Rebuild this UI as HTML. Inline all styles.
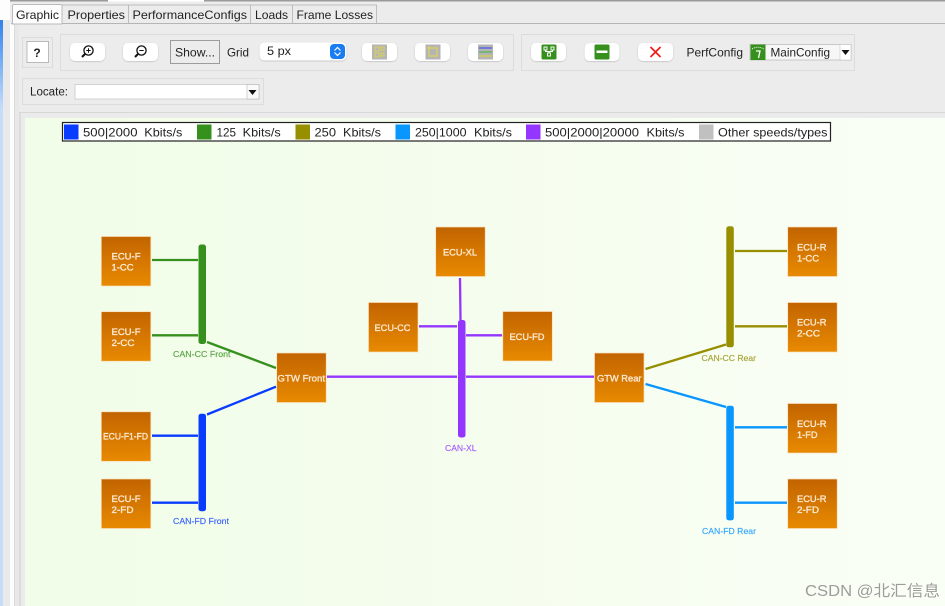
<!DOCTYPE html>
<html><head><meta charset="utf-8"><style>
html,body{margin:0;padding:0;width:945px;height:606px;overflow:hidden;background:#ececec}
svg{display:block;font-family:"Liberation Sans",sans-serif;filter:blur(0.35px)}
text{white-space:pre}
</style></head><body>
<svg width="945" height="606" viewBox="0 0 945 606" xmlns="http://www.w3.org/2000/svg">
<defs>
<linearGradient id="n" x1="0" y1="0" x2="0" y2="1"><stop offset="0" stop-color="#c26400"/><stop offset="1" stop-color="#e88a00"/></linearGradient>
<linearGradient id="bg" x1="0" y1="0" x2="1" y2="0"><stop offset="0" stop-color="#f1fde8"/><stop offset="0.5" stop-color="#f5fdee"/><stop offset="1" stop-color="#fafff6"/></linearGradient>
<linearGradient id="bl" x1="0" y1="0" x2="0" y2="1"><stop offset="0" stop-color="#2f80ee"/><stop offset="0.08" stop-color="#7fb4f5"/><stop offset="0.15" stop-color="#c4dcfa"/><stop offset="1" stop-color="#c4dcfa"/></linearGradient>
<filter id="sh" x="-20%" y="-20%" width="140%" height="150%"><feDropShadow dx="0" dy="0.6" stdDeviation="0.7" flood-color="#000" flood-opacity="0.22"/></filter>
</defs>
<rect width="945" height="606" fill="#ececec"/>
<!-- left strip and top -->
<rect x="0" y="0" width="15" height="606" fill="#fdfdfd"/>
<rect x="3" y="20" width="7" height="586" fill="#e9e9e9"/>
<rect x="0" y="20" width="3" height="586" fill="url(#bl)"/>
<rect x="10" y="0" width="98" height="1.500" fill="#9a9a9a"/>
<rect x="108" y="0" width="96" height="1.500" fill="#fff"/>
<rect x="204" y="0" width="741" height="1.500" fill="#9a9a9a"/>
<rect x="10" y="1.500" width="935" height="22" fill="#ececec"/>
<rect x="11" y="23" width="934" height="1.200" fill="#b5b5b5"/>
<!-- tabs -->
<rect x="14" y="24" width="931" height="90" fill="#ececec"/>
<rect x="14" y="24" width="5" height="582" fill="#e8e8e8"/>
<rect x="19" y="113" width="2" height="493" fill="#dcdcdc"/>
<rect x="14" y="24" width="1" height="582" fill="#dadada"/>
<path d="M12.500 24V6.500q0-2 2-2h46q1.500 0 1.500 2V24z" fill="#fdfdfd" stroke="#bbb"/>
<path d="M128.500 23V5M250.500 23V5M292.500 23V5M376.500 23V5M62 5H377" stroke="#bdbdbd" fill="none"/>
<g font-size="12" fill="#222">
<text x="16" y="19" textLength="43" lengthAdjust="spacingAndGlyphs">Graphic</text>
<text x="67.500" y="19" textLength="57.500" lengthAdjust="spacingAndGlyphs">Properties</text>
<text x="132.500" y="19" textLength="114.500" lengthAdjust="spacingAndGlyphs">PerformanceConfigs</text>
<text x="255" y="19" textLength="33" lengthAdjust="spacingAndGlyphs">Loads</text>
<text x="296.500" y="19" textLength="76.500" lengthAdjust="spacingAndGlyphs">Frame Losses</text>
</g>
<!-- toolbar groups -->
<g fill="none" stroke="#dcdcdc">
<rect x="22.500" y="37.500" width="30" height="30"/>
<rect x="60.500" y="34.500" width="453" height="36"/>
<rect x="521.500" y="34.500" width="333" height="36"/>
<rect x="22.500" y="78.500" width="241" height="26"/>
</g>
<rect x="27" y="41.500" width="21.500" height="21" fill="#fff" stroke="#aaa" stroke-width="0.800"/>
<text x="37" y="57" font-size="12" font-weight="bold" fill="#222" text-anchor="middle">?</text>
<g fill="#fff" filter="url(#sh)">
<rect x="70" y="43" width="35" height="18" rx="5"/>
<rect x="123" y="43" width="35" height="18" rx="5"/>
<rect x="259.500" y="42.500" width="87" height="18" rx="5"/>
<rect x="362" y="43" width="35" height="18" rx="5"/>
<rect x="415" y="43" width="35" height="18" rx="5"/>
<rect x="468" y="43" width="35" height="18" rx="5"/>
<rect x="531" y="43" width="35" height="18" rx="5"/>
<rect x="584.500" y="43" width="35" height="18" rx="5"/>
<rect x="638" y="43" width="35" height="18" rx="5"/>
</g>
<!-- magnifiers -->
<g fill="none" stroke="#111" stroke-width="1.300">
<circle cx="88.500" cy="50.500" r="4.600"/><path d="M85 54l-3 3" stroke-width="2"/><path d="M86.300 50.500h4.400M88.500 48.300v4.400" stroke-width="1"/>
<circle cx="141.500" cy="50.500" r="4.600"/><path d="M138 54l-3 3" stroke-width="2"/><path d="M139.300 50.500h4.400" stroke-width="1"/>
</g>
<rect x="170.500" y="40.500" width="49" height="23" fill="#ececec" stroke="#9c9c9c" stroke-width="1"/>
<text x="175" y="56.500" font-size="12" fill="#222" textLength="40" lengthAdjust="spacingAndGlyphs">Show...</text>
<text x="227" y="56.500" font-size="12" fill="#222" textLength="22" lengthAdjust="spacingAndGlyphs">Grid</text>
<text x="267" y="55" font-size="12" fill="#222" textLength="24" lengthAdjust="spacingAndGlyphs">5 px</text>
<rect x="330" y="44" width="15" height="15" rx="4" fill="#1a7cf2"/>
<path d="M334.500 50.500l3-3 3 3M334.500 52.500l3 3 3-3" fill="none" stroke="#fff" stroke-width="1.200"/>
<!-- grey icons -->
<rect x="372" y="44.500" width="15" height="15" fill="#b4b4b4"/>
<path d="M375 47h4v4h-4zM375 53h4v4h-4zM381 47h3v3h-3zM381 53h3v3h-3z" fill="none" stroke="#dcd35a"/>
<rect x="425.500" y="44.500" width="15" height="15" fill="#b4b4b4"/>
<path d="M429 48h8v8h-8zM427 48h3M429 46v3" fill="none" stroke="#dcd35a" stroke-width="1.200"/>
<rect x="478" y="44.500" width="15" height="15" fill="#b4b4b4"/>
<path d="M479 48h13" stroke="#4a5cf0" stroke-width="1.300"/><path d="M479 52h13" stroke="#58b858" stroke-width="1.300"/><path d="M479 56h13" stroke="#d8cc50" stroke-width="1.300"/>
<!-- green icons -->
<rect x="541.500" y="44.500" width="15" height="15" rx="1.500" fill="#36901e"/>
<path d="M544 47h3v3h-3zM551 47h3v3h-3zM547.500 53h3v3h-3zM545.500 50v1.500h7V50M549 51.500V53" fill="none" stroke="#fff" stroke-width="0.900"/>
<rect x="594.500" y="44.500" width="15" height="15" rx="1.500" fill="#36901e"/>
<rect x="596.500" y="50.500" width="11" height="2.500" fill="#fff"/>
<path d="M650.500 47l10 10M660.500 47l-10 10" stroke="#f0201a" stroke-width="1.800"/>
<text x="686.500" y="56.500" font-size="12" fill="#222" textLength="56.500" lengthAdjust="spacingAndGlyphs">PerfConfig</text>
<rect x="750" y="44.500" width="101" height="15.500" fill="#f7f7f7" stroke="#bdbdbd" stroke-width="0.800"/>
<rect x="750.500" y="44.500" width="15" height="15.500" fill="#36901e"/>
<path d="M752 49q5.500-3.500 12 0" fill="none" stroke="#fff" stroke-dasharray="1 1"/><path d="M756 51h4l-1.500 7" fill="none" stroke="#fff" stroke-width="1.300"/>
<text x="770.500" y="56.500" font-size="12" fill="#222" textLength="59.500" lengthAdjust="spacingAndGlyphs">MainConfig</text>
<rect x="840" y="44.500" width="11" height="15.500" fill="#fff" stroke="#bbb" stroke-width="0.500"/>
<path d="M841.500 50h8l-4 5z" fill="#111"/>
<!-- locate -->
<text x="30" y="95.500" font-size="11.500" fill="#222" textLength="38" lengthAdjust="spacingAndGlyphs">Locate:</text>
<rect x="75" y="84.500" width="184" height="14.500" fill="#fff" stroke="#c4c4c4" stroke-width="0.700"/>
<rect x="247" y="84.500" width="12" height="14.500" fill="#fafafa" stroke="#aaa" stroke-width="0.500"/>
<path d="M248.500 90h8l-4 5z" fill="#111"/>
<!-- canvas -->
<rect x="19" y="112" width="926" height="1.200" fill="#d8d8d8"/>
<rect x="21" y="113.200" width="924" height="492.800" fill="#ebebeb"/>
<rect x="25" y="118" width="920" height="488" fill="url(#bg)"/>
<!-- legend -->
<rect x="62.500" y="122.500" width="768" height="18.500" fill="#fff" stroke="#222" stroke-width="1.200"/>
<g>
<rect x="64" y="124.500" width="14.500" height="15" fill="#0a3cff"/>
<rect x="197" y="124.500" width="14.500" height="15" fill="#36901e"/>
<rect x="295.500" y="124.500" width="14.500" height="15" fill="#978f00"/>
<rect x="395.500" y="124.500" width="14.500" height="15" fill="#0a96ff"/>
<rect x="526" y="124.500" width="14.500" height="15" fill="#9436ff"/>
<rect x="699" y="124.500" width="14.500" height="15" fill="#c0c0c0"/>
</g>
<g font-size="12" fill="#222">
<text x="83" y="136.500" textLength="54.500" lengthAdjust="spacingAndGlyphs">500|2000</text><text x="144.300" y="136.500" textLength="38" lengthAdjust="spacingAndGlyphs">Kbits/s</text>
<text x="216.500" y="136.500" textLength="19.500" lengthAdjust="spacingAndGlyphs">125</text><text x="242.700" y="136.500" textLength="38" lengthAdjust="spacingAndGlyphs">Kbits/s</text>
<text x="314.500" y="136.500" textLength="21.500" lengthAdjust="spacingAndGlyphs">250</text><text x="343" y="136.500" textLength="38" lengthAdjust="spacingAndGlyphs">Kbits/s</text>
<text x="415" y="136.500" textLength="51.500" lengthAdjust="spacingAndGlyphs">250|1000</text><text x="474" y="136.500" textLength="38" lengthAdjust="spacingAndGlyphs">Kbits/s</text>
<text x="545" y="136.500" textLength="94" lengthAdjust="spacingAndGlyphs">500|2000|20000</text><text x="646.500" y="136.500" textLength="38" lengthAdjust="spacingAndGlyphs">Kbits/s</text>
<text x="718" y="136.500" textLength="109.500" lengthAdjust="spacingAndGlyphs">Other speeds/types</text>
</g>
<!-- connectors -->
<g fill="none" stroke-width="2.300">
<g stroke="#36901e"><path d="M152 260H198M152 335.300H198"/><path d="M207 342L276 368"/></g>
<g stroke="#0a3cff"><path d="M152 435.700H198M152 502.700H198"/><path d="M207 414.500L276 386.700"/></g>
<g stroke="#9436ff"><path d="M327 376.700H457M466 376.700H594"/><path d="M460 278L460.500 320"/><path d="M419 326.300H457M466 335.300H502"/></g>
<g stroke="#978f00"><path d="M735 251H787M735 326.300H787"/><path d="M645.500 369L726 344.500"/></g>
<g stroke="#0a96ff"><path d="M735 427.300H787M735 502.700H787"/><path d="M645.500 384L726 407"/></g>
</g>
<!-- buses -->
<rect x="198.500" y="244.500" width="7.500" height="99.500" rx="2.500" fill="#36901e"/>
<rect x="198.500" y="413.700" width="7.500" height="97.500" rx="2.500" fill="#0a3cff"/>
<rect x="458" y="320" width="7.500" height="117.500" rx="2.500" fill="#9436ff"/>
<rect x="726.300" y="226.300" width="7.500" height="121" rx="2.500" fill="#978f00"/>
<rect x="726.300" y="405.700" width="7.500" height="114.700" rx="2.500" fill="#0a96ff"/>
<!-- nodes -->
<g fill="url(#n)" stroke="#fbdcb8" stroke-width="0.700">
<rect x="101.300" y="236.500" width="49.500" height="49.500"/>
<rect x="101.300" y="311.700" width="49.500" height="49.500"/>
<rect x="101.300" y="411.800" width="49.500" height="49.500"/>
<rect x="101.300" y="479" width="49.500" height="49.500"/>
<rect x="276.700" y="353" width="49.500" height="49.500"/>
<rect x="435.700" y="227" width="49.500" height="49.500"/>
<rect x="368.500" y="302.500" width="49.500" height="49.500"/>
<rect x="502.800" y="311.500" width="49.500" height="49.500"/>
<rect x="594.500" y="353" width="49.500" height="49.500"/>
<rect x="787.700" y="227" width="49.500" height="49.500"/>
<rect x="787.700" y="302.500" width="49.500" height="49.500"/>
<rect x="787.700" y="403.500" width="49.500" height="49.500"/>
<rect x="787.700" y="479" width="49.500" height="49.500"/>
</g>
<g font-size="9.500" fill="#fde9d2" stroke="#fde9d2" stroke-width="0.350">
<text x="111.500" y="259.500" textLength="29" lengthAdjust="spacingAndGlyphs">ECU-F</text>
<text x="111.500" y="270.500" textLength="22" lengthAdjust="spacingAndGlyphs">1-CC</text>
<text x="111.500" y="335" textLength="29" lengthAdjust="spacingAndGlyphs">ECU-F</text>
<text x="111.500" y="346" textLength="23" lengthAdjust="spacingAndGlyphs">2-CC</text>
<text x="103" y="439.500" textLength="45" lengthAdjust="spacingAndGlyphs">ECU-F1-FD</text>
<text x="111.500" y="502" textLength="29" lengthAdjust="spacingAndGlyphs">ECU-F</text>
<text x="111.500" y="513" textLength="22" lengthAdjust="spacingAndGlyphs">2-FD</text>
<text x="277.500" y="381.500" textLength="47.500" lengthAdjust="spacingAndGlyphs">GTW Front</text>
<text x="443" y="255.500" textLength="34" lengthAdjust="spacingAndGlyphs">ECU-XL</text>
<text x="374.500" y="331" textLength="36" lengthAdjust="spacingAndGlyphs">ECU-CC</text>
<text x="509.500" y="340" textLength="35" lengthAdjust="spacingAndGlyphs">ECU-FD</text>
<text x="597" y="381.500" textLength="44.500" lengthAdjust="spacingAndGlyphs">GTW Rear</text>
<text x="797" y="250.500" textLength="29.500" lengthAdjust="spacingAndGlyphs">ECU-R</text>
<text x="797" y="261.500" textLength="22" lengthAdjust="spacingAndGlyphs">1-CC</text>
<text x="797" y="325.500" textLength="29.500" lengthAdjust="spacingAndGlyphs">ECU-R</text>
<text x="797" y="336.500" textLength="23" lengthAdjust="spacingAndGlyphs">2-CC</text>
<text x="797" y="427" textLength="29.500" lengthAdjust="spacingAndGlyphs">ECU-R</text>
<text x="797" y="438" textLength="20.500" lengthAdjust="spacingAndGlyphs">1-FD</text>
<text x="797" y="502" textLength="29.500" lengthAdjust="spacingAndGlyphs">ECU-R</text>
<text x="797" y="513" textLength="22" lengthAdjust="spacingAndGlyphs">2-FD</text>
</g>
<!-- bus labels -->
<g font-size="8.500" stroke-width="0.150">
<text x="173" y="357" fill="#5aa544" stroke="#5aa544" textLength="57.500" lengthAdjust="spacingAndGlyphs">CAN-CC Front</text>
<text x="173" y="524" fill="#3a62ff" stroke="#3a62ff" textLength="56" lengthAdjust="spacingAndGlyphs">CAN-FD Front</text>
<text x="445" y="451" fill="#a55cff" stroke="#a55cff" textLength="31.500" lengthAdjust="spacingAndGlyphs">CAN-XL</text>
<text x="701.500" y="361" fill="#a8a236" stroke="#a8a236" textLength="54.500" lengthAdjust="spacingAndGlyphs">CAN-CC Rear</text>
<text x="702" y="534" fill="#34a6ff" stroke="#34a6ff" textLength="54" lengthAdjust="spacingAndGlyphs">CAN-FD Rear</text>
</g>
<text x="805" y="596" font-size="15.500" fill="#9c9c9c" font-family="'Liberation Sans','Noto Sans CJK SC',sans-serif" textLength="135" lengthAdjust="spacingAndGlyphs">CSDN @北汇信息</text>
</svg>
</body></html>
